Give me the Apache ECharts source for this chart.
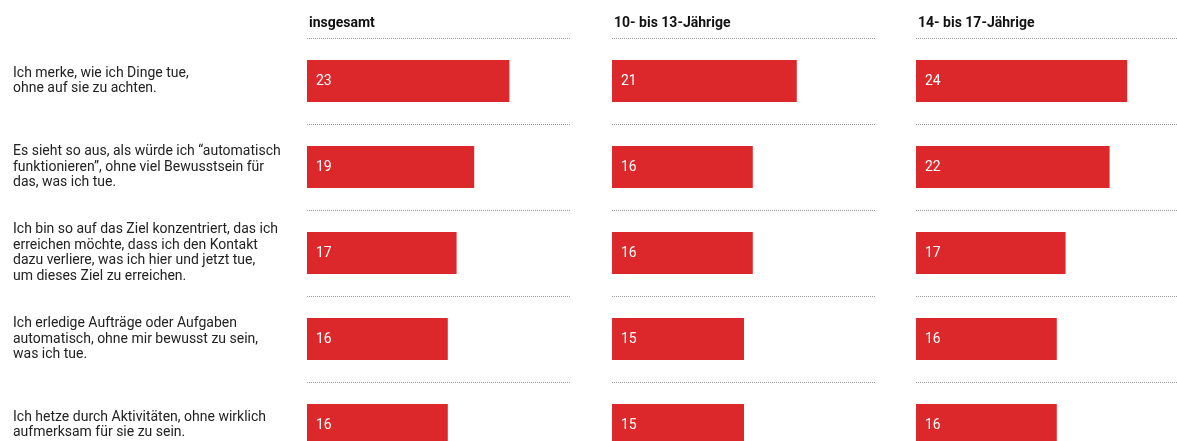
<!DOCTYPE html>
<html>
<head>
<meta charset="utf-8">
<script src="https://cdn.jsdelivr.net/npm/echarts@6/dist/echarts.min.js"></script>
<style>
  html, body { margin: 0; padding: 0; background: #fff; }
  #chart { width: 1177px; height: 441px; }
</style>
</head>
<body>
<div id="chart"></div>
<script>
var statements = [
  'Ich merke, wie ich Dinge tue,\nohne auf sie zu achten.',
  'Es sieht so aus, als würde ich “automatisch\nfunktionieren”, ohne viel Bewusstsein für\ndas, was ich tue.',
  'Ich bin so auf das Ziel konzentriert, das ich\nerreichen möchte, dass ich den Kontakt\ndazu verliere, was ich hier und jetzt tue,\num dieses Ziel zu erreichen.',
  'Ich erledige Aufträge oder Aufgaben\nautomatisch, ohne mir bewusst zu sein,\nwas ich tue.',
  'Ich hetze durch Aktivitäten, ohne wirklich\naufmerksam für sie zu sein.'
];
var groups = ['insgesamt', '10- bis 13-Jährige', '14- bis 17-Jährige'];
var insgesamt = [23, 19, 17, 16, 16];
var age10to13 = [21, 16, 16, 15, 15];
var age14to17 = [24, 22, 17, 16, 16];
var values = [insgesamt, age10to13, age14to17];

var font = 'Roboto';
var lefts = [307, 612, 916];
var red = '#dd282b';

var myChart = echarts.init(document.getElementById('chart'));

var grids = [], xAxes = [], yAxes = [], series = [], titles = [];
for (var i = 0; i < 3; i++) {
  grids.push({ left: lefts[i], top: 38, width: 264, height: 430, outerBoundsMode: 'none', containLabel: false });
  titles.push({
    text: groups[i],
    left: lefts[i] + 2,
    top: 16,
    padding: 0,
    textStyle: { fontFamily: font, fontSize: 14, fontWeight: 'bold', color: '#111' }
  });
  xAxes.push({
    type: 'value', gridIndex: i, min: 0, max: 30,
    show: false
  });
  yAxes.push({
    type: 'category', gridIndex: i, inverse: true,
    data: statements,
    axisLine: { show: false },
    axisTick: { show: false },
    splitLine: { show: true, lineStyle: { type: [1, 1], color: '#9a9a9a', width: 1 } },
    axisLabel: {
      show: i === 0,
      align: 'left',
      margin: 294,
      fontFamily: font,
      fontSize: 14,
      lineHeight: 15.5,
      color: '#222'
    }
  });
  series.push({
    type: 'bar',
    xAxisIndex: i, yAxisIndex: i,
    data: values[i],
    barWidth: 42,
    itemStyle: { color: red },
    label: {
      show: true, position: 'insideLeft', distance: 9,
      color: '#fff', fontFamily: font, fontSize: 14
    },
    silent: true
  });
}

var option = {
  animation: false,
  title: titles,
  grid: grids,
  xAxis: xAxes,
  yAxis: yAxes,
  series: series
};
myChart.setOption(option);
window.addEventListener('resize', function () { myChart.resize(); });
</script>
</body>
</html>
